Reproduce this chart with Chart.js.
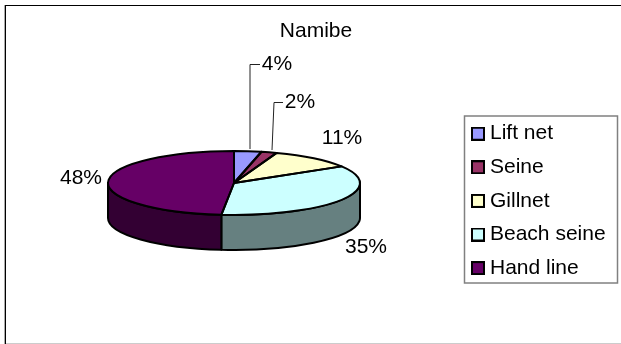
<!DOCTYPE html>
<html>
<head>
<meta charset="utf-8">
<style>
  html, body { margin: 0; padding: 0; background: #fff; }
  canvas { display: block; }
</style>
<script src="https://cdn.jsdelivr.net/npm/chart.js@4"></script>
</head>
<body>
<canvas id="pie3d" width="621" height="344"></canvas>
<script>
// ===== Namibe gear share, fake 3D pie =====
const TITLE = 'Namibe';
const categories = ['Lift net', 'Seine', 'Gillnet', 'Beach seine', 'Hand line'];
// the labels round these
const shares = [3.5, 2, 10.8, 35.3, 48.4];
const faceColors = ['#9999FF', '#993366', '#FFFFCC', '#CCFFFF', '#660066'];
const wallColors = ['#4D4D80', '#4D1A33', '#808066', '#668080', '#330033'];

// label anchors, and the two leader lines for the thin slices
const labelPos = [[277, 64], [300, 102], [342, 138], [366, 247], [81, 178]];
const leaders = [[[250, 149], [250, 64.5], [260, 64.5]], [[272, 150], [274, 102.5], [283, 102.5]]];

const SQUASH = 32 / 126;
const DEPTH = 35;
const FONT = '21px "Liberation Sans"';

function swatch(color) {
  const c = document.createElement('canvas');
  c.width = c.height = 14;
  const g = c.getContext('2d');
  g.fillStyle = '#000';
  g.fillRect(0, 0, 14, 14);
  g.fillStyle = color;
  g.fillRect(2, 2, 10, 10);
  return c;
}

const pie3d = {
  id: 'pie3d',
  afterLayout(chart) {
    // move title and legend away from where the layout puts them
    const t = chart.titleBlock;
    t.left = 266; t.right = 366;
    const l = chart.legend;
    l.left = 463.9; l.right = 618; l.top = 110.6; l.bottom = 300;
  },
  beforeDraw(chart) {
    const ctx = chart.ctx;
    ctx.save();
    // outer frame: grey outside edge, black line, faint bottom
    ctx.fillStyle = '#aaa';
    ctx.fillRect(4, 5, 1, 339);
    ctx.fillStyle = '#000';
    ctx.fillRect(5, 5, 1, 339);
    ctx.fillRect(5, 5, 616, 1);
    ctx.fillStyle = '#ccc';
    ctx.fillRect(6, 343, 615, 1);
    ctx.strokeStyle = '#808080';
    ctx.lineWidth = 1.5;
    ctx.strokeRect(464.5, 116, 153, 167);
    ctx.restore();
  },
  beforeDatasetsDraw(chart) {
    const ctx = chart.ctx;
    const arcs = chart.getDatasetMeta(0).data;
    ctx.save();
    ctx.lineWidth = 2;
    ctx.strokeStyle = '#000';
    ctx.lineJoin = 'round';
    arcs.forEach((arc, i) => {
      const a = Math.max(arc.startAngle, 0);
      const b = Math.min(arc.endAngle, Math.PI);
      if (b <= a) return;
      const ry = arc.outerRadius * SQUASH;
      ctx.beginPath();
      ctx.ellipse(arc.x, arc.y, arc.outerRadius, ry, 0, a, b);
      ctx.ellipse(arc.x, arc.y + DEPTH, arc.outerRadius, ry, 0, b, a, true);
      ctx.closePath();
      ctx.fillStyle = wallColors[i];
      ctx.fill();
      ctx.stroke();
    });
    ctx.restore();
    // squash the library's own arcs into the top face
    const first = arcs[0];
    ctx.save();
    ctx.translate(first.x, first.y);
    ctx.scale(1, SQUASH);
    ctx.translate(-first.x, -first.y);
  },
  afterDatasetsDraw(chart) {
    const ctx = chart.ctx;
    ctx.restore();
    const arcs = chart.getDatasetMeta(0).data;
    ctx.save();
    ctx.lineWidth = 2;
    ctx.strokeStyle = '#000';
    ctx.lineJoin = 'round';
    arcs.forEach(arc => {
      ctx.beginPath();
      ctx.moveTo(arc.x, arc.y);
      ctx.ellipse(arc.x, arc.y, arc.outerRadius, arc.outerRadius * SQUASH, 0, arc.startAngle, arc.endAngle);
      ctx.closePath();
      ctx.stroke();
    });
    ctx.lineWidth = 1;
    ctx.strokeStyle = '#222';
    leaders.forEach(pts => {
      ctx.beginPath();
      pts.forEach((p, i) => (i ? ctx.lineTo(p[0], p[1]) : ctx.moveTo(p[0], p[1])));
      ctx.stroke();
    });
    ctx.fillStyle = '#000';
    ctx.font = FONT;
    ctx.textAlign = 'center';
    ctx.textBaseline = 'middle';
    shares.forEach((v, i) => ctx.fillText(Math.round(v) + '%', labelPos[i][0], labelPos[i][1]));
    ctx.restore();
  }
};

new Chart(document.getElementById('pie3d').getContext('2d'), {
  type: 'pie',
  data: {
    labels: categories,
    datasets: [{ data: shares, backgroundColor: faceColors, borderWidth: 0 }]
  },
  options: {
    responsive: false,
    animation: false,
    layout: { padding: { left: 108, right: 261, top: 0, bottom: 35 } },
    plugins: {
      tooltip: { enabled: false },
      title: {
        display: true,
        text: TITLE,
        color: '#000',
        font: { family: 'Liberation Sans', size: 21, weight: 'normal', lineHeight: 1.2 },
        padding: { top: 18.5, bottom: 13.3 }
      },
      legend: {
        position: 'chartArea',
        align: 'start',
        labels: {
          color: '#000',
          font: { family: 'Liberation Sans', size: 21 },
          usePointStyle: true,
          pointStyleWidth: 3,
          padding: 12.6,
          generateLabels(chart) {
            return Chart.overrides.pie.plugins.legend.labels.generateLabels(chart)
              .map((item, i) => ({ ...item, pointStyle: swatch(faceColors[i]) }));
          }
        }
      }
    }
  },
  plugins: [pie3d]
});
</script>
</body>
</html>
